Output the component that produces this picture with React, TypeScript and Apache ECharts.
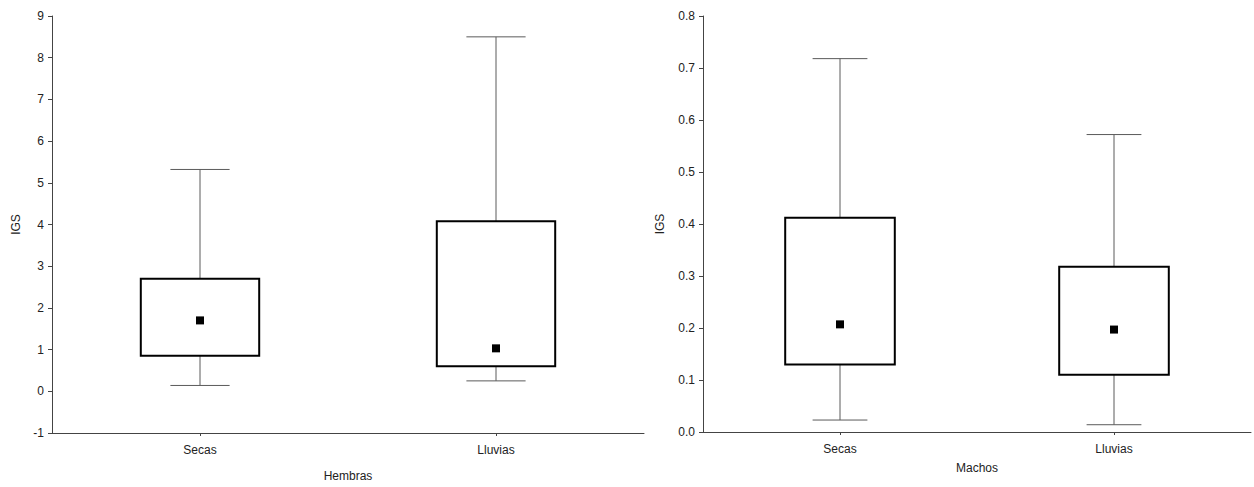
import React, { useEffect, useRef } from "react";
import * as echarts from "echarts";

const categories = ["Secas", "Lluvias"];

// [low whisker, Q1 (box bottom), Q3 (box top), high whisker, mean]
const hembrasLow = [0.14, 0.25];
const hembrasBoxLow = [0.85, 0.6];
const hembrasBoxHigh = [2.7, 4.08];
const hembrasHigh = [5.32, 8.5];
const hembrasMean = [1.7, 1.03];

const machosLow = [0.023, 0.014];
const machosBoxLow = [0.13, 0.11];
const machosBoxHigh = [0.412, 0.318];
const machosHigh = [0.718, 0.572];
const machosMean = [0.207, 0.197];

const hembrasTicks = { min: -1, max: 9, interval: 1 };
const machosTicks = { min: 0, max: 0.8, interval: 0.1 };

const FONT = "Liberation Sans, Arial, sans-serif";

function buildData(low: number[], bl: number[], bh: number[], high: number[], mean: number[]) {
  return categories.map((_, i) => [i, low[i], bl[i], bh[i], high[i], mean[i]]);
}

function renderItem(params: any, api: any) {
  const idx = api.value(0);
  const low = api.coord([idx, api.value(1)]);
  const bl = api.coord([idx, api.value(2)]);
  const bh = api.coord([idx, api.value(3)]);
  const high = api.coord([idx, api.value(4)]);
  const mean = api.coord([idx, api.value(5)]);
  const band = api.size([1, 0])[0];
  const boxW = band * 0.4;
  const capW = band * 0.2;
  const x = low[0];
  const wStyle = { stroke: "#5a5a5a", lineWidth: 1 };
  return {
    type: "group",
    children: [
      { type: "line", shape: { x1: x, y1: high[1], x2: x, y2: bh[1] }, style: wStyle },
      { type: "line", shape: { x1: x, y1: bl[1], x2: x, y2: low[1] }, style: wStyle },
      { type: "line", shape: { x1: x - capW / 2, y1: high[1], x2: x + capW / 2, y2: high[1] }, style: wStyle },
      { type: "line", shape: { x1: x - capW / 2, y1: low[1], x2: x + capW / 2, y2: low[1] }, style: wStyle },
      {
        type: "rect",
        shape: { x: x - boxW / 2, y: bh[1], width: boxW, height: bl[1] - bh[1] },
        style: { fill: "#fff", stroke: "#000", lineWidth: 2 },
      },
      {
        type: "rect",
        shape: { x: x - 4, y: mean[1] - 4, width: 8, height: 8 },
        style: { fill: "#000" },
      },
    ],
  };
}

function axisCommon() {
  return {
    axisLine: { show: true, onZero: false, lineStyle: { color: "#444", width: 1 } },
    splitLine: { show: false },
  };
}

export default function App() {
  const ref = useRef<HTMLDivElement>(null);
  useEffect(() => {
    if (!ref.current) return;
    const chart = echarts.init(ref.current, null, { renderer: "svg" });
    const labelStyle = { color: "#222", fontSize: 12, fontFamily: FONT };
    chart.setOption({
      animation: false,
      backgroundColor: "#fff",
      grid: [
        { left: 52, right: 610, top: 16, bottom: 54, containLabel: false },
        { left: 703, right: 3, top: 16, bottom: 55, containLabel: false },
      ],
      xAxis: [
        {
          type: "category",
          gridIndex: 0,
          data: categories,
          name: "Hembras",
          nameLocation: "middle",
          nameGap: 37,
          nameTextStyle: labelStyle,
          axisLabel: { ...labelStyle, margin: 11 },
          axisTick: { show: true, alignWithLabel: true, length: 3, lineStyle: { color: "#444" } },
          ...axisCommon(),
        },
        {
          type: "category",
          gridIndex: 1,
          data: categories,
          name: "Machos",
          nameLocation: "middle",
          nameGap: 30,
          nameTextStyle: labelStyle,
          axisLabel: { ...labelStyle, margin: 11 },
          axisTick: { show: true, alignWithLabel: true, length: 3, lineStyle: { color: "#444" } },
          ...axisCommon(),
        },
      ],
      yAxis: [
        {
          type: "value",
          gridIndex: 0,
          min: hembrasTicks.min,
          max: hembrasTicks.max,
          interval: hembrasTicks.interval,
          name: "IGS",
          nameLocation: "middle",
          nameGap: 30,
          nameTextStyle: labelStyle,
          axisLabel: { ...labelStyle, margin: 8 },
          axisTick: { show: true, length: 4, lineStyle: { color: "#444" } },
          ...axisCommon(),
        },
        {
          type: "value",
          gridIndex: 1,
          min: machosTicks.min,
          max: machosTicks.max,
          interval: machosTicks.interval,
          name: "IGS",
          nameLocation: "middle",
          nameGap: 37,
          nameTextStyle: labelStyle,
          axisLabel: { ...labelStyle, margin: 8, formatter: (v: number) => v.toFixed(1) },
          axisTick: { show: true, length: 4, lineStyle: { color: "#444" } },
          ...axisCommon(),
        },
      ],
      series: [
        {
          type: "custom",
          xAxisIndex: 0,
          yAxisIndex: 0,
          renderItem,
          encode: { x: 0, y: [1, 2, 3, 4, 5] },
          data: buildData(hembrasLow, hembrasBoxLow, hembrasBoxHigh, hembrasHigh, hembrasMean),
        },
        {
          type: "custom",
          xAxisIndex: 1,
          yAxisIndex: 1,
          renderItem,
          encode: { x: 0, y: [1, 2, 3, 4, 5] },
          data: buildData(machosLow, machosBoxLow, machosBoxHigh, machosHigh, machosMean),
        },
      ],
    });
    return () => chart.dispose();
  }, []);
  return (
    <div
      ref={ref}
      style={{ position: "absolute", left: 0, top: 0, width: 1254, height: 487, background: "#fff" }}
    />
  );
}
